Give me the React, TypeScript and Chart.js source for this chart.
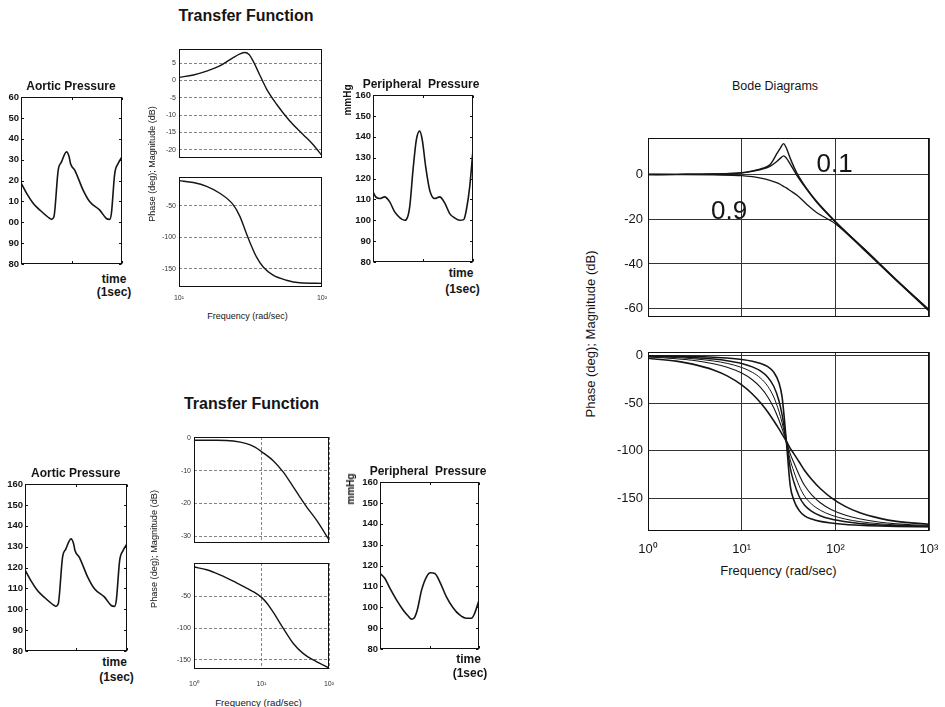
import React, { useEffect, useRef } from "react";
import { Chart, registerables } from "chart.js";

Chart.register(...registerables);

const FONT = '"Liberation Sans", Arial, Helvetica, sans-serif';

// ---------- Pressure waveforms (mmHg vs time, % of window) ----------
const aorticTime = [0, 5.6, 12.2, 18.8, 28.6, 30.3, 32.6, 36.8, 40.1, 45.1, 47.7, 49.0, 53.3, 61.5, 68.1, 78.0, 84.5, 87.8, 89.5, 92.8, 96.1, 100];
const aorticValues = [118.9, 113.8, 109, 105.8, 101.8, 101.4, 102.6, 124.9, 128.9, 133.7, 131.3, 128.1, 124.9, 115.4, 109.8, 105.8, 101.8, 101.4, 104.2, 123.3, 128.1, 131.3];

const periph1Time = [0, 2.7, 6.7, 11.7, 16.7, 21.7, 26.7, 31.7, 33.3, 36.7, 40, 43.3, 46.7, 49.3, 52.7, 56.7, 61.7, 66.7, 71.7, 76.7, 81.7, 86.7, 90.7, 93.3, 96.7, 100];
const periph1Values = [113.6, 111.2, 110.4, 111.2, 108.8, 104, 101.3, 100, 100.3, 106.4, 124, 138.4, 142.7, 138.4, 125.6, 114.4, 110.4, 111.2, 108.3, 103.2, 101.1, 100, 100.3, 104.8, 116, 133.6];

const periph2Time = [0, 5.0, 10.1, 16.8, 23.5, 28.5, 31.9, 34.2, 37.6, 42.0, 47.0, 51.0, 55.4, 60.4, 67.1, 73.8, 80.5, 87.2, 92.3, 95.6, 100];
const periph2Values = [116.2, 113.8, 109, 103.4, 98.6, 95.8, 94.3, 94.7, 98.6, 108.2, 114.6, 116.5, 116.2, 112.2, 105, 99.8, 96.3, 94.7, 94.7, 97.1, 103.4];

const pressureTicks = [80, 90, 100, 110, 120, 130, 140, 150, 160];
const pressureLabelsCropped = ["80", "90", "00", "10", "20", "30", "40", "50", "60"];
const pressureLabels = ["80", "90", "100", "110", "120", "130", "140", "150", "160"];
const timeTicks = [0, 50, 100];

// ---------- Transfer function 1 (resonant) ----------
const tf1Freq = [10, 12.6, 15.6, 19.3, 23.9, 26.7, 28.9, 30.9, 33, 36.7, 40.9, 48, 59.5, 73.7, 86.5, 100];
const tf1Mag = [0.9, 1.6, 2.7, 4.2, 6.6, 7.7, 8.1, 7.5, 5.6, 1.6, -2.4, -6.8, -11.7, -15.6, -18.5, -21.7];
const tf1PhaseFreq = [10, 12.6, 15.6, 19.3, 23.9, 26.7, 29.6, 31.6, 34.8, 38.8, 45.5, 56.4, 69.8, 100];
const tf1Phase = [-10, -13, -19, -30, -48, -67, -94, -110, -131, -147, -160, -168, -172, -173];
const tf1MagTicks = [5, 0, -5, -10, -15, -20];
const tf1PhaseTicks = [-50, -100, -150];
const tf1FreqTicks = [10, 100];
const tf1FreqLabels = ["10\u00B9", "10\u00B2"];

// ---------- Transfer function 2 (damped) ----------
const tf2Freq = [1, 2.16, 3.81, 6.0, 8.0, 10.1, 14.9, 20.9, 29.4, 36.9, 46.5, 65, 100];
const tf2Mag = [-0.8, -0.8, -1.0, -1.8, -2.9, -4.3, -7.0, -10.4, -14.9, -18, -21, -25, -31];
const tf2PhaseFreq = [1, 1.54, 2.42, 3.81, 6.0, 8.0, 10.1, 12.3, 14.9, 20.9, 29.4, 41.3, 65, 100];
const tf2Phase = [-3.7, -8, -16, -26, -37, -44, -52, -62, -75, -100, -124, -140, -153, -163];
const tf2MagTicks = [0, -10, -20, -30];
const tf2PhaseTicks = [-50, -100, -150];
const tf2FreqTicks = [1, 10, 100];
const tf2FreqLabels = ["10\u2070", "10\u00B9", "10\u00B2"];

// ---------- Bode diagrams (damping 0.1 ... 0.9) ----------
const bodeMagFreq = [1, 2, 5, 10, 13, 16, 20, 24, 26, 28, 30, 33, 39, 50, 63, 100, 200, 500, 1000];
const bodeMag01 = [0, 0.05, 0.2, 0.8, 1.6, 2.5, 4.3, 9.6, 11.9, 13.8, 11.8, 7.2, 0.5, -6.6, -12, -21, -33, -49, -60.5];
const bodeMag02 = [0, 0.05, 0.2, 0.7, 1.4, 2.2, 3.6, 6.0, 7.3, 8.3, 7.3, 4.6, -0.5, -6.9, -12.3, -21.2, -33, -49, -60.5];
const bodeMag09 = [0, -0.05, -0.2, -0.5, -1.0, -1.6, -2.6, -3.8, -4.5, -5.3, -6.0, -7.2, -9.3, -13.5, -17, -22, -33.5, -49.3, -61];

const bodePhaseFreq = [1, 2, 3, 5, 7, 10, 13, 16, 19, 22, 25, 27, 30, 33, 36, 41, 47, 56, 69, 90, 129, 180, 300, 450, 1000];
const bodePhaseA = [-0.4, -0.8, -1.2, -2.0, -2.8, -4.3, -6.1, -8.5, -11.9, -17.6, -28.6, -43.5, -90, -136.5, -151.4, -162.4, -168.1, -171.5, -173.9, -175.7, -177.2, -178.0, -178.8, -179.2, -179.6];
const bodePhaseB = [-0.8, -1.5, -2.3, -3.9, -5.6, -8.5, -12.1, -16.6, -22.9, -32.4, -47.5, -62.2, -90, -117.8, -132.5, -147.6, -157.1, -163.4, -168, -171.5, -174.4, -176.1, -177.7, -178.5, -179.2];
const bodePhaseC = [-1.2, -2.3, -3.5, -5.9, -8.4, -12.7, -17.8, -24.1, -32.4, -43.6, -58.6, -70.6, -90, -109.4, -121.4, -136.4, -147.6, -155.9, -162.2, -167.3, -171.6, -174.1, -176.5, -177.7, -178.9];
const bodePhaseD = [-1.7, -3.5, -5.2, -8.8, -12.5, -18.6, -25.6, -33.9, -43.6, -55, -67.8, -76.8, -90, -103.2, -112.2, -125, -136.4, -146.1, -154.4, -161.4, -167.5, -171.2, -174.8, -176.5, -178.3];
const bodePhaseE = [-3.1, -6.1, -9.2, -15.3, -21.5, -31, -40.5, -50, -59.4, -68.5, -77.1, -82.5, -90, -97.5, -102.9, -111.5, -120.6, -130, -139.5, -149, -158.5, -164.7, -170.8, -173.9, -176.9];

const bodeFreqTicks = [1, 10, 100, 1000];
const bodeFreqLabels = ["10\u2070", "10\u00B9", "10\u00B2", "10\u00B3"];
const bodeMagTicks = [0, -20, -40, -60];
const bodePhaseTicks = [0, -50, -100, -150];
const bodeNotes = [
  { text: "0.1", x: 63, y: 0.9 },
  { text: "0.9", x: 4.7, y: -19.9 },
];

// ---------- generic panel ----------
type Series = { x: number[]; y: number[]; w: number };
type PanelDef = {
  plot: [number, number, number, number];
  margin: [number, number, number, number];
  xLog: boolean;
  xRange: [number, number];
  xTicks: number[];
  xLabels: string[] | null;
  yRange: [number, number];
  yTicks: number[];
  yLabels: string[];
  tickFont: { family: string; size: number; weight?: string };
  tickColor: string;
  yPad: number;
  xPad: number;
  xGrid: boolean;
  yGrid: boolean;
  gridColor: string;
  gridDash: number[];
  gridWidth: number;
  innerTicks?: boolean;
  series: Series[];
  notes?: { text: string; x: number; y: number }[];
  noteSize?: number;
};

const labelFor = (ticks: number[], labels: string[] | null, v: number) => {
  if (!labels) return "";
  const i = ticks.findIndex((t) => Math.abs(t - v) < 1e-9 * Math.max(1, Math.abs(t)));
  return i >= 0 ? labels[i] : "";
};

function makeConfig(p: PanelDef) {
  const [ml, mt, mr, mb] = p.margin;
  const framePlugin = {
    id: "frame",
    afterDraw(chart: any) {
      const { ctx, chartArea: a, scales } = chart;
      const L = Math.round(a.left) + 0.5;
      const T = Math.round(a.top) + 0.5;
      const R = Math.round(a.right) - 0.5;
      const B = Math.round(a.bottom) - 0.5;
      ctx.save();
      ctx.strokeStyle = "#111";
      ctx.lineWidth = 1;
      ctx.strokeRect(L, T, R - L, B - T);
      if (p.innerTicks) {
        ctx.beginPath();
        for (const v of p.yTicks) {
          const y = Math.round(scales.y.getPixelForValue(v)) + 0.5;
          ctx.moveTo(L, y);
          ctx.lineTo(L + 2.5, y);
          ctx.moveTo(R, y);
          ctx.lineTo(R - 2.5, y);
        }
        for (const v of p.xTicks) {
          const x = Math.round(scales.x.getPixelForValue(v)) + 0.5;
          ctx.moveTo(x, T);
          ctx.lineTo(x, T + 2.5);
          ctx.moveTo(x, B);
          ctx.lineTo(x, B - 2.5);
        }
        ctx.stroke();
      }
      ctx.restore();
    },
  };
  const notesPlugin = {
    id: "notes",
    afterDatasetsDraw(chart: any) {
      if (!p.notes) return;
      const { ctx, scales } = chart;
      ctx.save();
      ctx.fillStyle = "#151515";
      ctx.font = `${p.noteSize || 26}px ${FONT}`;
      ctx.textAlign = "left";
      ctx.textBaseline = "alphabetic";
      for (const n of p.notes) {
        ctx.fillText(n.text, scales.x.getPixelForValue(n.x), scales.y.getPixelForValue(n.y));
      }
      ctx.restore();
    },
  };
  return {
    type: "line",
    data: {
      datasets: p.series.map((s) => ({
        data: s.x.map((x, i) => ({ x, y: s.y[i] })),
        borderColor: "#151515",
        borderWidth: s.w,
        pointRadius: 0,
        fill: false,
        cubicInterpolationMode: "monotone",
      })),
    },
    options: {
      responsive: false,
      animation: false,
      events: [],
      layout: { padding: { left: 0, top: mt, right: mr, bottom: 0 } },
      plugins: { legend: { display: false }, tooltip: { enabled: false }, title: { display: false } },
      scales: {
        x: {
          type: p.xLog ? "logarithmic" : "linear",
          min: p.xRange[0],
          max: p.xRange[1],
          afterBuildTicks: (s: any) => {
            s.ticks = p.xTicks.map((v) => ({ value: v }));
          },
          afterFit: (s: any) => {
            s.height = mb;
            s.paddingLeft = 0;
            s.paddingRight = 0;
          },
          ticks: {
            display: !!p.xLabels,
            autoSkip: false,
            maxRotation: 0,
            minRotation: 0,
            padding: p.xPad,
            font: p.tickFont,
            color: p.tickColor,
            callback: (v: any) => labelFor(p.xTicks, p.xLabels, Number(v)),
          },
          grid: { display: p.xGrid, drawTicks: false, color: p.gridColor, lineWidth: p.gridWidth },
          border: { display: false, dash: p.gridDash },
        },
        y: {
          type: "linear",
          min: p.yRange[0],
          max: p.yRange[1],
          afterBuildTicks: (s: any) => {
            s.ticks = p.yTicks.map((v) => ({ value: v }));
          },
          afterFit: (s: any) => {
            s.width = ml;
            s.paddingTop = 0;
            s.paddingBottom = 0;
          },
          ticks: {
            autoSkip: false,
            padding: p.yPad,
            font: p.tickFont,
            color: p.tickColor,
            callback: (v: any) => labelFor(p.yTicks, p.yLabels, Number(v)),
          },
          grid: { display: p.yGrid, drawTicks: false, color: p.gridColor, lineWidth: p.gridWidth },
          border: { display: false, dash: p.gridDash },
        },
      },
    },
    plugins: [framePlugin, notesPlugin],
  };
}

function ChartPanel({ def }: { def: PanelDef }) {
  const ref = useRef<HTMLCanvasElement>(null);
  const [l, t, r, b] = def.plot;
  const [ml, mt, mr, mb] = def.margin;
  const w = r - l + ml + mr;
  const h = b - t + mt + mb;
  useEffect(() => {
    const chart = new Chart(ref.current as HTMLCanvasElement, makeConfig(def) as any);
    return () => chart.destroy();
  }, []);
  return (
    <canvas
      ref={ref}
      width={w}
      height={h}
      style={{ position: "absolute", left: l - ml, top: t - mt, width: w, height: h }}
    />
  );
}

// ---------- panel definitions ----------
const pressFont = { family: FONT, size: 9.5, weight: "bold" };
const tfFont = { family: FONT, size: 7 };
const bodeFont = { family: FONT, size: 13 };

const pressureBase = {
  xLog: false,
  xRange: [0, 100] as [number, number],
  xTicks: timeTicks,
  xLabels: null,
  yRange: [80, 160] as [number, number],
  yTicks: pressureTicks,
  tickFont: pressFont,
  tickColor: "#151515",
  yPad: 2,
  xPad: 2,
  xGrid: false,
  yGrid: false,
  gridColor: "#555",
  gridDash: [],
  gridWidth: 1,
  innerTicks: true,
};

const tfBase = {
  xLog: true,
  tickFont: tfFont,
  tickColor: "#333",
  yPad: 3,
  xGrid: false,
  yGrid: true,
  gridColor: "#666",
  gridDash: [3, 2],
  gridWidth: 0.8,
};

const bodeBase = {
  xLog: true,
  xRange: [1, 1000] as [number, number],
  xTicks: bodeFreqTicks,
  tickFont: bodeFont,
  tickColor: "#151515",
  yPad: 5,
  xGrid: true,
  yGrid: true,
  gridColor: "#333",
  gridDash: [],
  gridWidth: 1,
};

const panels: PanelDef[] = [
  {
    ...pressureBase,
    plot: [21, 97, 122, 264],
    margin: [21, 6, 4, 4],
    yLabels: pressureLabelsCropped,
    series: [{ x: aorticTime, y: aorticValues, w: 1.6 }],
  },
  {
    ...pressureBase,
    plot: [373, 95, 473, 262],
    margin: [30, 6, 4, 4],
    yLabels: pressureLabels,
    series: [{ x: periph1Time, y: periph1Values, w: 1.6 }],
  },
  {
    ...pressureBase,
    plot: [25, 484, 127, 651],
    margin: [25, 6, 4, 4],
    yLabels: pressureLabels,
    series: [{ x: aorticTime, y: aorticValues, w: 1.6 }],
  },
  {
    ...pressureBase,
    plot: [380, 482, 479, 649],
    margin: [30, 6, 4, 4],
    yLabels: pressureLabels,
    series: [{ x: periph2Time, y: periph2Values, w: 1.6 }],
  },
  {
    ...tfBase,
    plot: [179, 49, 322, 158],
    margin: [24, 5, 8, 3],
    xRange: [10, 100],
    xTicks: tf1FreqTicks,
    xLabels: null,
    xPad: 7,
    yRange: [-22.4, 9.1],
    yTicks: tf1MagTicks,
    yLabels: tf1MagTicks.map(String),
    series: [{ x: tf1Freq, y: tf1Mag, w: 1.4 }],
  },
  {
    ...tfBase,
    plot: [179, 177, 322, 287],
    margin: [24, 3, 10, 20],
    xRange: [10, 100],
    xTicks: tf1FreqTicks,
    xLabels: tf1FreqLabels,
    xPad: 7,
    yRange: [-178.7, -4.2],
    yTicks: tf1PhaseTicks,
    yLabels: tf1PhaseTicks.map(String),
    series: [{ x: tf1PhaseFreq, y: tf1Phase, w: 1.4 }],
  },
  {
    ...tfBase,
    plot: [194, 437, 329, 543],
    margin: [24, 5, 8, 3],
    xRange: [1, 100],
    xTicks: tf2FreqTicks,
    xLabels: null,
    xGrid: true,
    xPad: 11,
    yRange: [-32, 0.2],
    yTicks: tf2MagTicks,
    yLabels: tf2MagTicks.map(String),
    series: [{ x: tf2Freq, y: tf2Mag, w: 1.4 }],
  },
  {
    ...tfBase,
    plot: [194, 563, 329, 669],
    margin: [24, 3, 10, 22],
    xRange: [1, 100],
    xTicks: tf2FreqTicks,
    xLabels: tf2FreqLabels,
    xGrid: true,
    xPad: 11,
    yRange: [-164.7, 2.7],
    yTicks: tf2PhaseTicks,
    yLabels: tf2PhaseTicks.map(String),
    series: [{ x: tf2PhaseFreq, y: tf2Phase, w: 1.4 }],
  },
  {
    ...bodeBase,
    plot: [648, 138, 929, 317],
    margin: [40, 8, 14, 4],
    xLabels: null,
    xPad: 11,
    yRange: [-63.7, 16.3],
    yTicks: bodeMagTicks,
    yLabels: bodeMagTicks.map(String),
    series: [
      { x: bodeMagFreq, y: bodeMag01, w: 1.4 },
      { x: bodeMagFreq, y: bodeMag02, w: 1.4 },
      { x: bodeMagFreq, y: bodeMag09, w: 1.3 },
    ],
    notes: bodeNotes,
    noteSize: 26,
  },
  {
    ...bodeBase,
    plot: [648, 352, 929, 531],
    margin: [40, 4, 14, 28],
    xLabels: bodeFreqLabels,
    xPad: 11,
    yRange: [-184, 3.5],
    yTicks: bodePhaseTicks,
    yLabels: bodePhaseTicks.map(String),
    series: [
      { x: bodePhaseFreq, y: bodePhaseA, w: 1.6 },
      { x: bodePhaseFreq, y: bodePhaseB, w: 1.5 },
      { x: bodePhaseFreq, y: bodePhaseC, w: 1.0 },
      { x: bodePhaseFreq, y: bodePhaseD, w: 1.1 },
      { x: bodePhaseFreq, y: bodePhaseE, w: 1.6 },
    ],
  },
];

// ---------- free text (titles, axis labels) ----------
type Txt = { t: string; x: number; y: number; s: number; b?: boolean; r?: boolean };
const texts: Txt[] = [
  { t: "Transfer Function", x: 246, y: 15.5, s: 16, b: true },
  { t: "Aortic Pressure", x: 71, y: 85.5, s: 12, b: true },
  { t: "time", x: 114, y: 279, s: 12, b: true },
  { t: "(1sec)", x: 114, y: 292, s: 12, b: true },
  { t: "Phase (deg); Magnitude (dB)", x: 152, y: 164, s: 9, r: true },
  { t: "Frequency (rad/sec)", x: 247.5, y: 316, s: 9 },
  { t: "Peripheral  Pressure", x: 421, y: 84, s: 12, b: true },
  { t: "mmHg", x: 347.5, y: 100, s: 10, b: true, r: true },
  { t: "time", x: 461, y: 273, s: 12, b: true },
  { t: "(1sec)", x: 462.5, y: 288.5, s: 12, b: true },
  { t: "Transfer Function", x: 251.5, y: 403.5, s: 16, b: true },
  { t: "Aortic Pressure", x: 75.7, y: 472.5, s: 12, b: true },
  { t: "time", x: 114.5, y: 662, s: 12, b: true },
  { t: "(1sec)", x: 116.5, y: 677, s: 12, b: true },
  { t: "Phase (deg); Magnitude (dB)", x: 154.7, y: 549, s: 9.2, r: true },
  { t: "Frequency (rad/sec)", x: 258.5, y: 703, s: 9.7 },
  { t: "Peripheral  Pressure", x: 428, y: 471, s: 12, b: true },
  { t: "mmHg", x: 351, y: 489, s: 10, b: true, r: true },
  { t: "time", x: 468.5, y: 659, s: 12, b: true },
  { t: "(1sec)", x: 470, y: 673, s: 12, b: true },
  { t: "Bode Diagrams", x: 775, y: 86, s: 12.5 },
  { t: "Phase (deg); Magnitude (dB)", x: 589.5, y: 334, s: 13, r: true },
  { t: "Frequency (rad/sec)", x: 778.5, y: 570, s: 13 },
];

export default function App() {
  return (
    <div
      style={{
        position: "fixed",
        left: 0,
        top: 0,
        width: 945,
        height: 707,
        background: "#fff",
        overflow: "hidden",
        fontFamily: FONT,
        color: "#151515",
      }}
    >
      {panels.map((p, i) => (
        <ChartPanel key={i} def={p} />
      ))}
      {texts.map((tx, i) => (
        <div
          key={"t" + i}
          style={{
            position: "absolute",
            left: tx.x,
            top: tx.y,
            fontSize: tx.s,
            fontWeight: tx.b ? "bold" : "normal",
            lineHeight: 1,
            whiteSpace: "pre",
            transform: `translate(-50%, -50%)${tx.r ? " rotate(-90deg)" : ""}`,
          }}
        >
          {tx.t}
        </div>
      ))}
    </div>
  );
}
